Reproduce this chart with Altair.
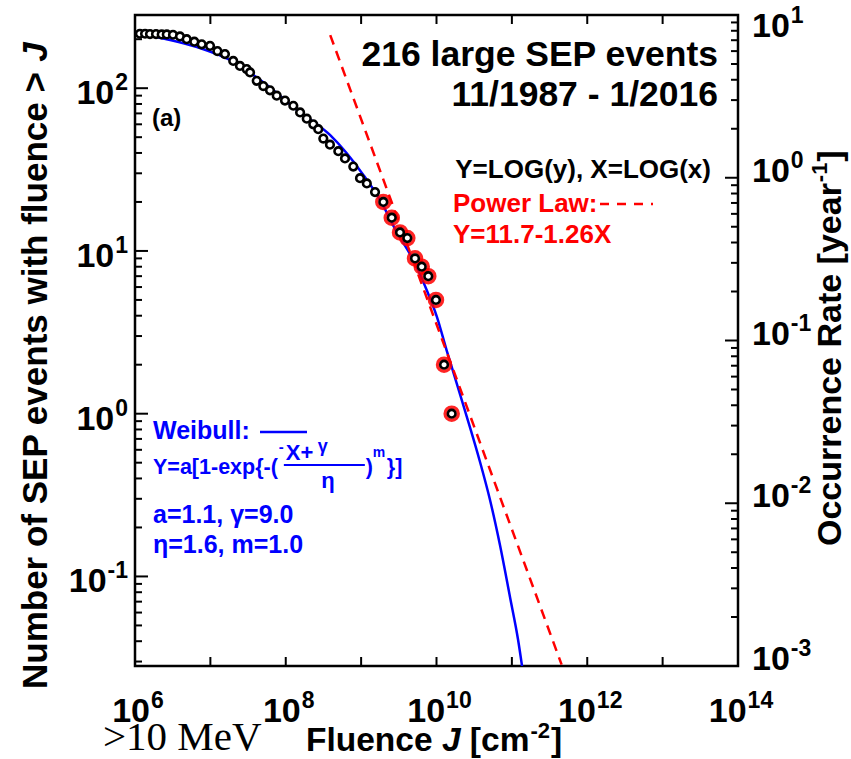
import math
import altair as alt
import pandas as pd

SANS = "Liberation Sans"
SERIF = "Liberation Serif"
BLUE = "#0000ff"
RED = "#ff0000"

# ---------------- data ----------------
# observing span 11/1987 - 1/2016, converts counts to yearly occurrence rate
YEARS = (2016 + 1 / 12) - (1987 + 11 / 12)

# cumulative number of events with fluence above J
fluence = [1.16e6, 1.36e6, 1.58e6, 1.90e6, 2.26e6, 2.64e6, 3.19e6, 3.95e6,
           4.85e6, 6.12e6, 7.67e6, 9.89e6, 1.24e7, 1.56e7, 2.01e7, 2.47e7,
           3.03e7, 3.36e7, 4.12e7, 5.04e7, 6.18e7, 7.59e7, 9.77e7, 1.26e8,
           1.55e8, 1.90e8, 2.32e8, 2.70e8, 3.15e8, 3.86e8, 4.98e8, 6.11e8,
           7.87e8, 9.66e8, 1.19e9, 1.53e9, 1.97e9, 2.55e9, 3.28e9, 4.10e9,
           5.19e9, 6.37e9, 7.78e9, 9.84e9, 1.26e10, 1.59e10]
n_events = [216, 216, 215, 215, 214, 214, 213, 208,
            200, 193, 186, 182, 169, 162, 147, 137,
            131, 125, 111, 103, 97, 90, 84, 78,
            71, 65, 60, 56, 49, 45, 41, 37,
            33, 28, 26, 23, 20, 16, 13, 12,
            9, 8, 7, 5, 2, 1]
FIT_MAX_N = 20  # tail points used for the power-law fit (ringed in red)

# Weibull fit curve
weibull_fluence = [1.0e6, 6.65e6, 1.82e7, 4.99e7, 1.41e8, 3.86e8, 1.07e9,
                   1.78e9, 2.96e9, 4.92e9, 7.41e9, 1.01e10, 1.36e10, 1.85e10,
                   2.52e10, 3.78e10, 5.13e10, 6.95e10, 9.44e10, 1.21e11, 1.45e11]
weibull_n = [218, 179, 149, 109, 73.4, 51.6, 29.3,
             20.6, 13.1, 8.79, 5.75, 3.95, 2.46, 1.54,
             0.96, 0.505, 0.295, 0.156, 0.0748, 0.0407, 0.0231]

# power law in log space: log(rate) = 11.7 - 1.26 log(J)
PL_INTERCEPT = 11.7
PL_SLOPE = -1.26
pl_log_fluence = [8.59, 11.66]

# axis ticks
x_ticks = [1e6, 1e7, 1e8, 1e9, 1e10, 1e11, 1e12, 1e13, 1e14]
x_labels = [(1e6, "6"), (1e8, "8"), (1e10, "10"), (1e12, "12"), (1e14, "14")]
left_labels = [(0.1, "-1"), (1.0, "0"), (10.0, "1"), (100.0, "2")]
right_labels = [(1e-3, "-3"), (1e-2, "-2"), (1e-1, "-1"), (1e0, "0"), (1e1, "1")]

# ---------------- layout ----------------
W, H = 603, 651
L, T = 135, 15
YDOM = [1e-3 * YEARS, 10 * YEARS]
xs = alt.Scale(type="log", domain=[1e6, 1e14])
ys = alt.Scale(type="log", domain=YDOM)

BOLD = {" ": 278, "(": 333, ")": 333, ",": 278, "-": 333, ".": 278, "/": 278,
        ":": 333, "=": 584, ">": 584, "[": 333, "]": 333, "{": 389, "}": 389,
        "A": 722, "E": 667, "F": 611, "G": 778, "J": 556, "L": 611, "M": 833,
        "N": 722, "O": 778, "P": 667, "R": 722, "S": 667, "W": 944, "X": 667,
        "Y": 667, "a": 556, "b": 611, "c": 556, "e": 556, "f": 333, "g": 611,
        "h": 611, "i": 278, "l": 278, "m": 889, "n": 611, "o": 611, "p": 611,
        "r": 389, "s": 556, "t": 333, "u": 611, "v": 556, "w": 778, "x": 556,
        "y": 556}


def tw(s, size):
    return size * sum(BOLD.get(c, 556) for c in s) / 1000.0


def ypix(v):
    lo, hi = math.log10(YDOM[0]), math.log10(YDOM[1])
    return H * (hi - math.log10(v)) / (hi - lo)


def xenc(f="x"):
    return alt.X(f"{f}:Q", scale=xs, axis=None)


def yenc(f="y"):
    return alt.Y(f"{f}:Q", scale=ys, axis=None)


def txt(s, x, y, size, color="black", align="left", bold=True, font=SANS,
        angle=0, italic=False):
    kw = dict(align=align, baseline="alphabetic", fontSize=size,
              fontWeight="bold" if bold else "normal", font=font, color=color,
              fontStyle="italic" if italic else "normal")
    if angle:
        kw["angle"] = angle
    return alt.Chart(pd.DataFrame({"t": [s]})).mark_text(**kw).encode(
        x=alt.value(x - L), y=alt.value(y - T), text="t:N")


def hline(x1, x2, y, color, width=2.5, dash=None):
    kw = dict(color=color, strokeWidth=width)
    if dash:
        kw["strokeDash"] = dash
    return alt.Chart(pd.DataFrame({"a": [0]})).mark_rule(**kw).encode(
        x=alt.value(x1 - L), x2=alt.value(x2 - L), y=alt.value(y - T))


layers = []

# ---------------- ticks (pointing inward) ----------------
xt = pd.DataFrame({"x": x_ticks})
layers.append(alt.Chart(xt).mark_rule(color="black", strokeWidth=2).encode(
    x=xenc(), y=alt.value(H), y2=alt.value(H - 9)))
layers.append(alt.Chart(xt).mark_rule(color="black", strokeWidth=2).encode(
    x=xenc(), y=alt.value(0), y2=alt.value(9)))


def log_ticks(lo, hi):
    major, minor = [], []
    d = 1e-4
    while d <= 1e3:
        for k in range(1, 10):
            v = d * k
            if lo * 0.999 <= v <= hi * 1.001:
                (major if k == 1 else minor).append(v)
        d *= 10
    return major, minor


lmaj, lmin = log_ticks(YDOM[0], YDOM[1])
rmaj, rmin = log_ticks(1e-3, 10)
rmaj = [v * YEARS for v in rmaj]
rmin = [v * YEARS for v in rmin]
for vals, x0, x1 in [(lmaj, 0, 13), (lmin, 0, 7), (rmaj, W, W - 13), (rmin, W, W - 7)]:
    layers.append(alt.Chart(pd.DataFrame({"y": vals})).mark_rule(
        color="black", strokeWidth=2).encode(y=yenc(), x=alt.value(x0), x2=alt.value(x1)))

# ---------------- tick labels ----------------
BASE, EXP = 34, 23
CAP = 0.716 * BASE
bw = tw("10", BASE)
for v, e in x_labels:
    ew = tw(e, EXP)
    start = -(bw + 1 + ew) / 2 + 3
    d = pd.DataFrame({"x": [v], "t": ["10"], "e": [e]})
    layers.append(alt.Chart(d).mark_text(align="left", baseline="alphabetic", dx=start,
                                         fontSize=BASE, fontWeight="bold", font=SANS,
                                         color="black").encode(
        x=xenc(), y=alt.value(H + 56), text="t:N"))
    layers.append(alt.Chart(d).mark_text(align="left", baseline="alphabetic",
                                         dx=start + bw + 1, fontSize=EXP,
                                         fontWeight="bold", font=SANS,
                                         color="black").encode(
        x=xenc(), y=alt.value(H + 42), text="e:N"))

for v, e in left_labels:
    ew = tw(e, EXP)
    d = pd.DataFrame({"y": [v], "t": ["10"], "e": [e]})
    layers.append(alt.Chart(d).mark_text(align="right", baseline="alphabetic", dy=16,
                                         fontSize=BASE, fontWeight="bold", font=SANS,
                                         color="black").encode(
        y=yenc(), x=alt.value(-7 - ew - 1), text="t:N"))
    layers.append(alt.Chart(d).mark_text(align="right", baseline="alphabetic", dy=2,
                                         fontSize=EXP, fontWeight="bold", font=SANS,
                                         color="black").encode(
        y=yenc(), x=alt.value(-7), text="e:N"))

for v, e in right_labels:
    # labels sit slightly above their tick, but never above the frame top
    off = max(4.0, CAP - 2 - ypix(v * YEARS))
    d = pd.DataFrame({"y": [v * YEARS], "t": ["10"], "e": [e]})
    layers.append(alt.Chart(d).mark_text(align="left", baseline="alphabetic", dy=off,
                                         fontSize=BASE, fontWeight="bold", font=SANS,
                                         color="black").encode(
        y=yenc(), x=alt.value(W + 14), text="t:N"))
    layers.append(alt.Chart(d).mark_text(align="left", baseline="alphabetic", dy=off - 14,
                                         fontSize=EXP, fontWeight="bold", font=SANS,
                                         color="black").encode(
        y=yenc(), x=alt.value(W + 14 + bw + 1), text="e:N"))

# ---------------- curves ----------------
wdf = pd.DataFrame({"x": weibull_fluence, "y": weibull_n})
layers.append(alt.Chart(wdf).mark_line(color=BLUE, strokeWidth=2.5, clip=True,
                                       interpolate="monotone").encode(x=xenc(), y=yenc()))

pdf = pd.DataFrame({"x": [10 ** lx for lx in pl_log_fluence],
                    "y": [YEARS * 10 ** (PL_INTERCEPT + PL_SLOPE * lx) for lx in pl_log_fluence]})
layers.append(alt.Chart(pdf).mark_line(color=RED, strokeWidth=2.5, strokeDash=[10, 7],
                                       clip=True).encode(x=xenc(), y=yenc()))

# ---------------- data points ----------------
pts = pd.DataFrame({"x": fluence, "y": n_events})
tail = pts[pts["y"] <= FIT_MAX_N]
layers.append(alt.Chart(tail).mark_point(shape="circle", filled=False, color=RED,
                                         size=170, strokeWidth=3.5, opacity=0.85).encode(
    x=xenc(), y=yenc()))
layers.append(alt.Chart(pts).mark_point(shape="circle", filled=True, fill="white",
                                        stroke="black", strokeWidth=2.6, size=58,
                                        fillOpacity=1, opacity=1).encode(
    x=xenc(), y=yenc()))

# ---------------- annotations ----------------
layers.append(txt("216 large SEP events", 718, 66, 35.5, align="right"))
layers.append(txt("11/1987 - 1/2016", 718, 106, 35.5, align="right"))
layers.append(txt("(a)", 152, 126, 24))
layers.append(txt("Y=LOG(y), X=LOG(x)", 711, 178, 26, align="right"))
layers.append(txt("Power Law:", 453, 212, 26, color=RED))
layers.append(hline(600, 653, 204, RED, dash=[9, 8]))
layers.append(txt("Y=11.7-1.26X", 453, 243, 26, color=RED))

layers.append(txt("Weibull:", 153, 439, 25, color=BLUE))
layers.append(hline(260, 307, 432, BLUE))
FS = 21.5
f_end = 153 + tw("Y=a[1-exp{-(", FS)
layers.append(txt("Y=a[1-exp{-(", 153, 474, FS, color=BLUE))
layers.append(txt("-", f_end + 1, 452, 15, color=BLUE))
layers.append(txt("X+", f_end + 8, 460, 22, color=BLUE))
layers.append(txt("γ", f_end + 40, 452, 18, color=BLUE))
layers.append(hline(f_end + 6, f_end + 87, 465, BLUE, width=2))
layers.append(txt("η", f_end + 50, 488, 22, color=BLUE, align="center"))
layers.append(txt(")", f_end + 88, 474, FS, color=BLUE))
layers.append(txt("m", f_end + 95, 457, 14, color=BLUE))
layers.append(txt("}]", f_end + 109, 474, FS, color=BLUE))
layers.append(txt("a=1.1, γ=9.0", 153, 523, 25, color=BLUE))
layers.append(txt("η=1.6, m=1.0", 153, 553, 25, color=BLUE))

# ---------------- axis titles ----------------
LT = 35
main_left = "Number of SEP events with fluence >"
y0 = 689
layers.append(txt(main_left, 47, y0, LT, angle=270))
layers.append(txt("J", 47, y0 - tw(main_left, LT) - tw(" ", LT), LT, angle=270, italic=True))

RT = 34
main_right = "Occurrence Rate [year"
ry = 546
mw = tw(main_right, RT)
layers.append(txt(main_right, 841, ry, RT, angle=270))
layers.append(txt("-1", 841 - 14, ry - mw - 1, 22, angle=270))
layers.append(txt("]", 841, ry - mw - 1 - tw("-1", 22) - 1, RT, angle=270))

layers.append(txt(">10 MeV", 103, 750, 41, bold=False, font=SERIF))
BT = 33.5
bx = 306
layers.append(txt("Fluence", bx, 751, BT))
bx += tw("Fluence ", BT)
layers.append(txt("J", bx, 751, BT, italic=True))
bx += tw("J ", BT)
layers.append(txt("[cm", bx, 751, BT))
bx += tw("[cm", BT) + 1
layers.append(txt("-2", bx, 738, 22))
bx += tw("-2", 22) + 1
layers.append(txt("]", bx, 751, BT))

chart = alt.layer(*layers).properties(
    width=W, height=H,
    autosize=alt.AutoSizeParams(type="none"),
    padding={"left": L, "top": T, "right": 851 - L - W, "bottom": 759 - T - H},
).configure_view(stroke="black", strokeWidth=2.5)

chart.save("out.html", embed_options={"renderer": "svg", "actions": False})
